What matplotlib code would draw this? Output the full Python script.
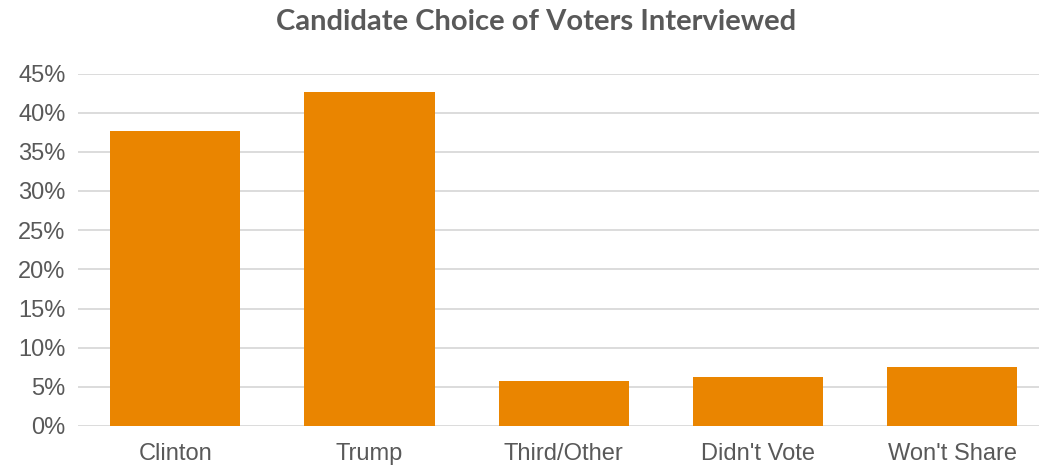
import matplotlib
matplotlib.use("Agg")
import matplotlib.pyplot as plt
from matplotlib.ticker import PercentFormatter

categories = ["Clinton", "Trump", "Third/Other", "Didn't Vote", "Won't Share"]
shares = [37.6, 42.7, 5.7, 6.3, 7.5]
yticks = [0, 5, 10, 15, 20, 25, 30, 35, 40, 45]

BAR = "#EA8500"
TEXT = "#595959"
GRID = "#D9D9D9"

W, H, DPI = 1039, 468, 100
fig = plt.figure(figsize=(W / DPI, H / DPI), dpi=DPI)

# plot area runs a little past the right edge of the canvas
left, right, bottom, top = 78, 1049.5, 426, 73.5
ax = fig.add_axes([left / W, 1 - bottom / H, (right - left) / W, (bottom - top) / H])

x = range(len(categories))
ax.bar(x, shares, width=0.67, color=BAR, zorder=3)

ax.set_xlim(-0.5, len(categories) - 0.5)
ax.set_ylim(0, 45)
ax.set_yticks(yticks)
ax.yaxis.set_major_formatter(PercentFormatter(decimals=0))
ax.set_xticks(list(x))
ax.set_xticklabels(categories)

ax.grid(axis="y", color=GRID, lw=1.3, zorder=0)
for s in ax.spines.values():
    s.set_visible(False)
ax.tick_params(length=0, labelsize=17, labelcolor=TEXT)
ax.tick_params(axis="x", pad=12)
ax.tick_params(axis="y", pad=9)
for lab in ax.get_xticklabels() + ax.get_yticklabels():
    lab.set_fontfamily("Liberation Sans")

fig.text(536 / W, 1 - 22 / H, "Candidate Choice of Voters Interviewed",
         ha="center", va="center", fontsize=21, fontweight="bold",
         color=TEXT, family="Lato")

fig.savefig("out.png", dpi=DPI)
